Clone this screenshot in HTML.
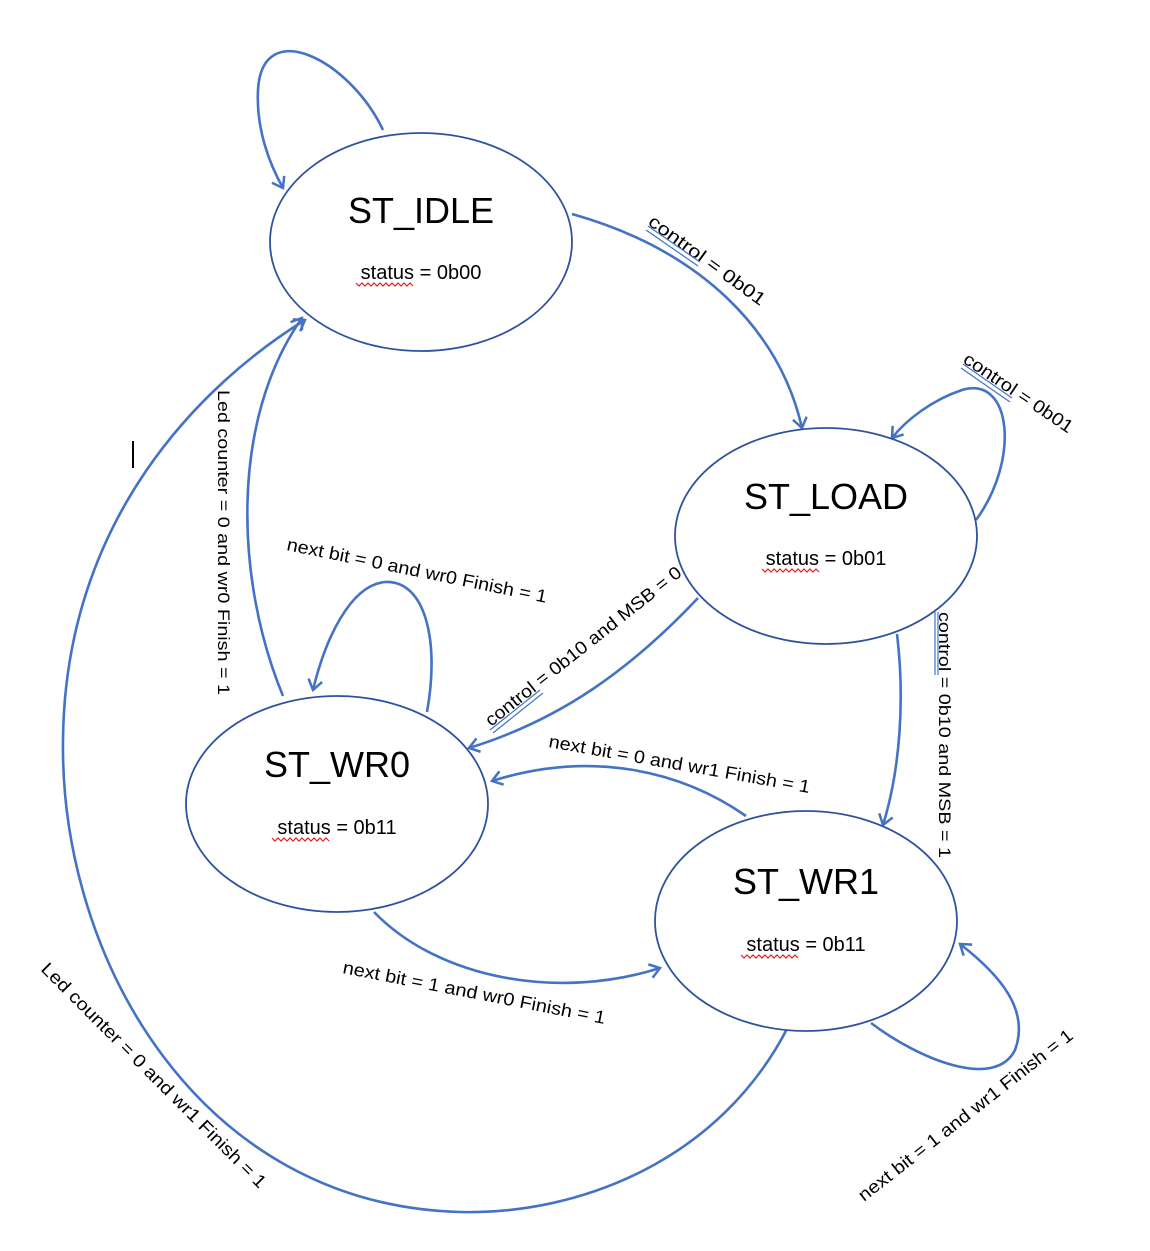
<!DOCTYPE html>
<html><head><meta charset="utf-8"><style>html,body{margin:0;padding:0;background:#fff}svg{display:block}</style></head>
<body>
<svg width="1150" height="1251" viewBox="0 0 1150 1251" xmlns="http://www.w3.org/2000/svg" font-family="Liberation Sans, sans-serif">
<defs>
<marker id="a" markerWidth="16" markerHeight="16" refX="12" refY="8" orient="auto" markerUnits="userSpaceOnUse">
<polyline points="2,1 12,8 2,15" fill="none" stroke="#4472C4" stroke-width="2.5"/>
</marker>
</defs>
<g fill="none" stroke="#4472C4" stroke-width="2.6">
<path d="M383,130 C350,60 262,15 258,90 C256,130 270,165 283,188" marker-end="url(#a)"/>
<path d="M572,214 C700,250 780,330 802,428" marker-end="url(#a)"/>
<path d="M976,520 C1020,460 1012,375 962,390 C932,400 906,420 892,438" marker-end="url(#a)"/>
<path d="M698,598 C630,670 560,720 469,748" marker-end="url(#a)"/>
<path d="M897,634 C905,700 900,770 883,825" marker-end="url(#a)"/>
<path d="M427,712 C440,640 425,580 385,582 C350,585 325,640 313,690" marker-end="url(#a)"/>
<path d="M283,696 C235,580 230,420 302,318" marker-end="url(#a)"/>
<path d="M746,816 C680,770 590,750 492,781" marker-end="url(#a)"/>
<path d="M374,912 C440,980 560,1000 660,968" marker-end="url(#a)"/>
<path d="M871,1023 C920,1060 995,1090 1015,1050 C1030,1010 1000,975 960,944" marker-end="url(#a)"/>
<path d="M788,1027 C720,1160 580,1215 460,1212 C200,1205 60,960 63,740 C65,520 200,385 305,320" marker-end="url(#a)"/>
</g>
<g fill="#fff" stroke="#2F52A0" stroke-width="1.8">
<ellipse cx="421" cy="242" rx="151" ry="109"/>
<ellipse cx="826" cy="536" rx="151" ry="108"/>
<ellipse cx="337" cy="804" rx="151" ry="108"/>
<ellipse cx="806" cy="921" rx="151" ry="110"/>
</g>
<line x1="133" y1="441" x2="133" y2="468" stroke="#000" stroke-width="2"/>
<g fill="#000" text-anchor="middle">
<text x="421" y="223" font-size="36">ST_IDLE</text>
<text x="421" y="279" font-size="20">status = 0b00</text>
<text x="826" y="509" font-size="36">ST_LOAD</text>
<text x="826" y="565" font-size="20">status = 0b01</text>
<text x="337" y="777" font-size="36">ST_WR0</text>
<text x="337" y="834" font-size="20">status = 0b11</text>
<text x="806" y="894" font-size="36">ST_WR1</text>
<text x="806" y="951" font-size="20">status = 0b11</text>
</g>
<g fill="none" stroke="#E02020" stroke-width="1.2">
<path d="M356,283 l3,3 l3,-3 l3,3 l3,-3 l3,3 l3,-3 l3,3 l3,-3 l3,3 l3,-3 l3,3 l3,-3 l3,3 l3,-3 l3,3 l3,-3 l3,3 l3,-3 l3,3"/>
<path d="M762,569 l3,3 l3,-3 l3,3 l3,-3 l3,3 l3,-3 l3,3 l3,-3 l3,3 l3,-3 l3,3 l3,-3 l3,3 l3,-3 l3,3 l3,-3 l3,3 l3,-3 l3,3"/>
<path d="M272,838 l3,3 l3,-3 l3,3 l3,-3 l3,3 l3,-3 l3,3 l3,-3 l3,3 l3,-3 l3,3 l3,-3 l3,3 l3,-3 l3,3 l3,-3 l3,3 l3,-3 l3,3"/>
<path d="M741,955 l3,3 l3,-3 l3,3 l3,-3 l3,3 l3,-3 l3,3 l3,-3 l3,3 l3,-3 l3,3 l3,-3 l3,3 l3,-3 l3,3 l3,-3 l3,3 l3,-3 l3,3"/>
</g>
<g fill="#000" font-size="18">
<text transform="translate(647,224) rotate(36)" textLength="140" lengthAdjust="spacingAndGlyphs">control =  0b01</text>
<text transform="translate(962,362) rotate(34)" textLength="128" lengthAdjust="spacingAndGlyphs">control = 0b01</text>
<text transform="translate(218,390) rotate(90)" font-size="17" textLength="305" lengthAdjust="spacingAndGlyphs">Led counter = 0 and wr0 Finish = 1</text>
<text transform="translate(286,550) rotate(11.5)" textLength="265" lengthAdjust="spacingAndGlyphs">next bit = 0 and wr0 Finish = 1</text>
<text transform="translate(491,727) rotate(-38.4)" textLength="245" lengthAdjust="spacingAndGlyphs">control = 0b10 and MSB = 0</text>
<text transform="translate(939,612) rotate(90)" font-size="17" textLength="246" lengthAdjust="spacingAndGlyphs">control = 0b10 and MSB = 1</text>
<text transform="translate(548,747) rotate(10)" textLength="265" lengthAdjust="spacingAndGlyphs">next bit = 0 and wr1 Finish = 1</text>
<text transform="translate(342,973) rotate(11)" textLength="267" lengthAdjust="spacingAndGlyphs">next bit = 1 and wr0 Finish = 1</text>
<text transform="translate(864,1202) rotate(-38)" textLength="267" lengthAdjust="spacingAndGlyphs">next bit = 1 and wr1 Finish = 1</text>
<text transform="translate(40,970) rotate(45)" textLength="310" lengthAdjust="spacingAndGlyphs">Led counter = 0 and wr1 Finish = 1</text>
</g>
<g stroke="#4472C4" stroke-width="1.2">
<line x1="648" y1="226" x2="700" y2="262"/><line x1="646" y1="230" x2="698" y2="266"/>
<line x1="963" y1="364" x2="1012" y2="398"/><line x1="961" y1="368" x2="1010" y2="402"/>
<line x1="935" y1="612" x2="935" y2="675"/><line x1="938" y1="612" x2="938" y2="675"/>
<line x1="490" y1="730" x2="540" y2="690"/><line x1="493" y1="733" x2="543" y2="693"/>
</g>
</svg>
</body></html>
